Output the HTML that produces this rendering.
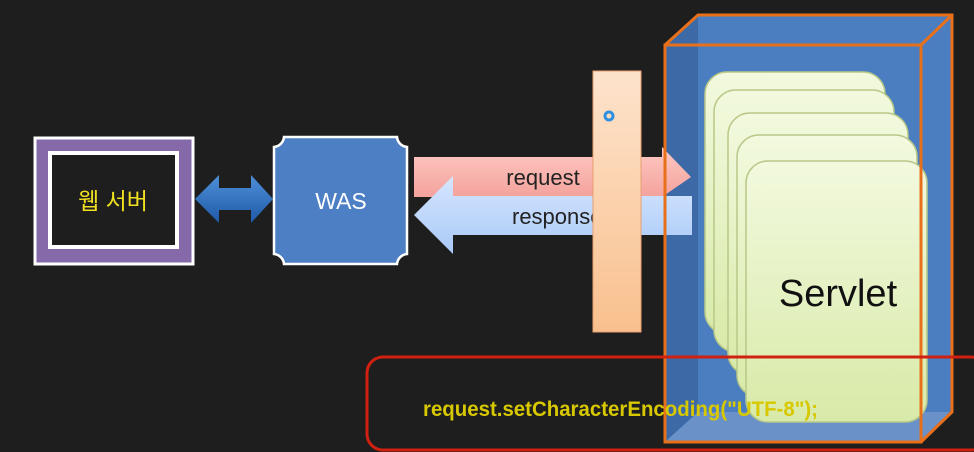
<!DOCTYPE html>
<html><head><meta charset="utf-8"><style>
html,body{margin:0;padding:0;background:#1e1e1e;}
svg{display:block}
</style></head><body>
<svg width="974" height="452" viewBox="0 0 974 452" xmlns="http://www.w3.org/2000/svg">
<defs>
<linearGradient id="dbl" x1="0" y1="0" x2="0" y2="1"><stop offset="0" stop-color="#4f8fd8"/><stop offset="1" stop-color="#1f5aa8"/></linearGradient>
<linearGradient id="req" x1="0" y1="0" x2="0" y2="1"><stop offset="0" stop-color="#ffc9c4"/><stop offset="1" stop-color="#f4a29c"/></linearGradient>
<linearGradient id="res" x1="0" y1="0" x2="0" y2="1"><stop offset="0" stop-color="#d6e6ff"/><stop offset="1" stop-color="#a9c9f7"/></linearGradient>
<linearGradient id="bar" x1="0" y1="0" x2="0" y2="1"><stop offset="0" stop-color="#fde3cc"/><stop offset="1" stop-color="#f9c08e"/></linearGradient>
<linearGradient id="card" x1="0" y1="0" x2="0" y2="1"><stop offset="0" stop-color="#f2f9de"/><stop offset="1" stop-color="#d8eaa8"/></linearGradient>
</defs>
<rect width="974" height="452" fill="#1e1e1e"/>
<!-- web server -->
<rect x="35" y="138" width="158" height="126" fill="#8669a8" stroke="#fff" stroke-width="3"/>
<rect x="50" y="153" width="127" height="94" fill="#1e1e1e" stroke="#fff" stroke-width="4"/>
<text x="113" y="209" fill="#f0e020" font-family="Liberation Sans, Noto Sans CJK KR, sans-serif" font-size="23" text-anchor="middle">웹 서버</text>
<!-- double arrow -->
<polygon points="195,199 219,175 219,188 251,188 251,175 273,199 251,223 251,210 219,210 219,223" fill="url(#dbl)"/>
<!-- WAS -->
<path d="M284,137 L397,137 A11,11 0 0 0 407,147 L407,254 A11,11 0 0 0 397,264 L284,264 A11,11 0 0 0 274,254 L274,147 A11,11 0 0 0 284,137 Z" fill="#4d7fc4" stroke="#fff" stroke-width="2.5"/>
<text x="341" y="209" fill="#fff" font-family="Liberation Sans, sans-serif" font-size="23" text-anchor="middle">WAS</text>
<!-- cube back fill -->
<polygon points="665,45 698,15 952,15 952,412 921,442 665,442" fill="#4a7ec0"/>
<polygon points="665,45 698,15 698,412 665,442" fill="#3d6aa6"/>
<polygon points="665,442 698,412 952,412 921,442" fill="#6a92c8"/>
<!-- request arrow -->
<polygon points="414,157 662,157 662,147 691,177 662,197 414,197" fill="url(#req)"/>
<text x="543" y="185" fill="#222" font-family="Liberation Sans, sans-serif" font-size="22" text-anchor="middle">request</text>
<!-- response arrow -->
<polygon points="692,196 453,196 453,176 414,215 453,254 453,235 692,235" fill="url(#res)"/>
<text x="512" y="224" fill="#222" font-family="Liberation Sans, sans-serif" font-size="22">response</text>
<!-- orange filter bar -->
<rect x="593" y="71" width="48" height="261" fill="url(#bar)" stroke="#e8a070" stroke-width="1"/>
<circle cx="609" cy="116" r="4" fill="none" stroke="#2f8fe0" stroke-width="3"/>
<!-- cards -->
<g stroke="#b8c888" stroke-width="1.5" fill="url(#card)">
<rect x="705" y="72" width="180" height="262" rx="22"/>
<rect x="714" y="90" width="180" height="262" rx="22"/>
<rect x="728" y="113" width="180" height="262" rx="22"/>
<rect x="737" y="135" width="180" height="262" rx="22"/>
<rect x="746" y="161" width="181" height="261" rx="22"/>
</g>
<text x="838" y="306" fill="#111" font-family="Liberation Sans, sans-serif" font-size="38" text-anchor="middle">Servlet</text>
<!-- cube edges -->
<g fill="none" stroke="#e8701a" stroke-width="3">
<rect x="665" y="45" width="256" height="397"/>
<polyline points="665,45 698,15 952,15 952,412 921,442"/>
<line x1="921" y1="45" x2="952" y2="15"/>
</g>
<!-- red box -->
<rect x="367" y="357" width="620" height="93" rx="16" fill="none" stroke="#d02010" stroke-width="3"/>
<text x="423" y="416" fill="#d8c800" font-family="Liberation Sans, sans-serif" font-size="21" font-weight="bold" textLength="395" lengthAdjust="spacingAndGlyphs">request.setCharacterEncoding("UTF-8");</text>
</svg>
</body></html>
